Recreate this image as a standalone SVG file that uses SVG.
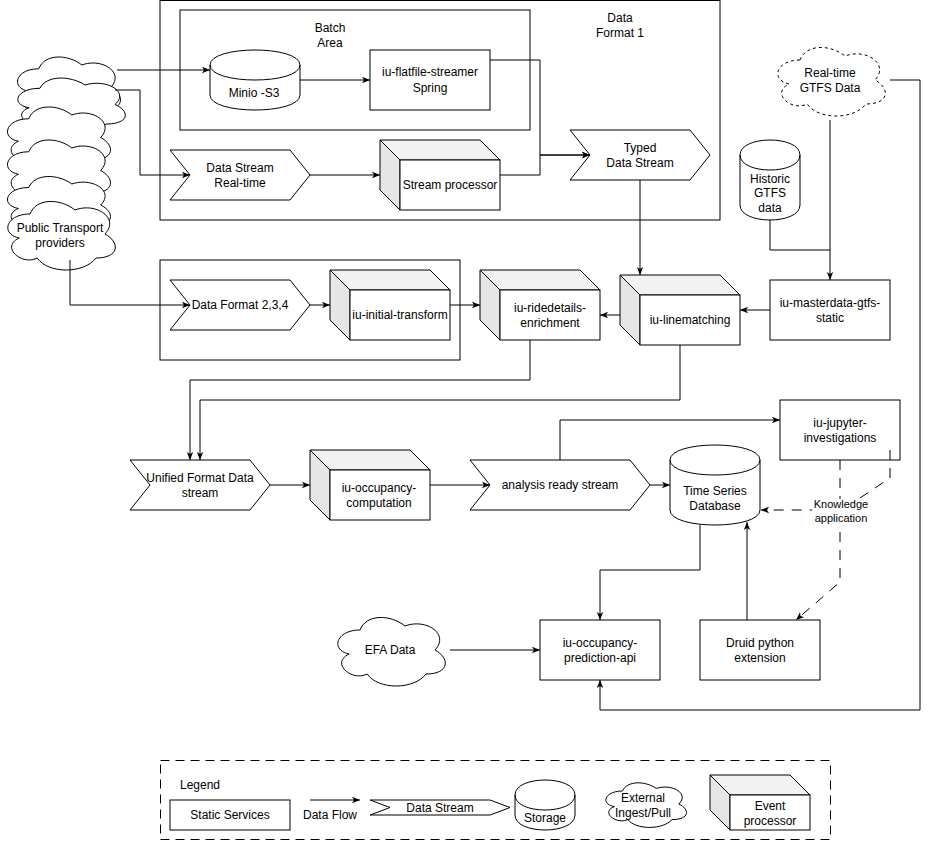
<svg xmlns="http://www.w3.org/2000/svg" width="929" height="841" viewBox="0 0 929 841">
<defs>
<style>
.b{fill:#fff;stroke:#000;stroke-width:1}
.nf{fill:none;stroke:#000;stroke-width:1}
.top{fill:#f2f2f2;stroke:#000;stroke-width:1}
.side{fill:#e6e6e6;stroke:#000;stroke-width:1}
.e{fill:none;stroke:#000;stroke-width:1;marker-end:url(#a)}
.ed{fill:none;stroke:#000;stroke-width:1;stroke-dasharray:10 8;marker-end:url(#a)}
text{font-family:"Liberation Sans",Arial,Helvetica,sans-serif;font-size:12px;fill:#000;text-anchor:middle}
.l{text-anchor:start}
.s{font-size:11px}
</style>
<marker id="a" viewBox="0 0 10 10" refX="10" refY="5" markerWidth="8" markerHeight="8" markerUnits="userSpaceOnUse" orient="auto"><path d="M0,1 L10,5 L0,9 L2.5,5 Z" fill="#000"/></marker>
</defs>
<rect width="929" height="841" fill="#fff"/>

<!-- containers -->
<g id="data-format-1"><rect class="b" x="160" y="0.5" width="560" height="219.5"/><text x="620" y="22">Data</text><text x="620" y="37">Format 1</text></g>
<g id="batch-area"><rect class="b" x="180" y="10" width="350" height="120"/><text x="330" y="32">Batch</text><text x="330" y="47">Area</text></g>
<g id="format-234-area"><rect class="b" x="160" y="260" width="300" height="100"/></g>

<!-- public transport cloud stack -->
<g id="public-transport-providers">
<path class="b" d="M38.75,68.75 C15.75,68.75 10,87.5 28.4,91.25 C10,99.5 30.7,117.5 45.65,110 C56,125 90.5,125 102,110 C125,110 125,95 110.625,87.5 C125,72.5 102,57.5 81.875,65 C67.5,53.75 44.5,53.75 38.75,68.75 Z"/>
<path class="b" d="M40,88.25 C16,88.25 10,104.5 29.2,107.75 C10,114.9 31.6,130.5 47.2,124 C58,137 94,137 106,124 C130,124 130,111 115,104.5 C130,91.5 106,78.5 85,85 C70,75.25 46,75.25 40,88.25 Z"/>
<path class="b" d="M28.75,118.75 C5.75,118.75 0,137.5 18.4,141.25 C0,149.5 20.7,167.5 35.65,160 C46,175 80.5,175 92,160 C115,160 115,145 100.625,137.5 C115,122.5 92,107.5 71.875,115 C57.5,103.75 34.5,103.75 28.75,118.75 Z"/>
<path class="b" d="M28.75,151.75 C5.75,151.75 0,170.5 18.4,174.25 C0,182.5 20.7,200.5 35.65,193 C46,208 80.5,208 92,193 C115,193 115,178 100.625,170.5 C115,155.5 92,140.5 71.875,148 C57.5,136.75 34.5,136.75 28.75,151.75 Z"/>
<path class="b" d="M28.75,187.5 C5.75,187.5 0,205 18.4,208.5 C0,216.2 20.7,233 35.65,226 C46,240 80.5,240 92,226 C115,226 115,212 100.625,205 C115,191 92,177 71.875,184 C57.5,173.5 34.5,173.5 28.75,187.5 Z"/>
<path class="b" d="M30,214 C6,214 0,234 19.2,238 C0,246.8 21.6,266 37.2,258 C48,274 84,274 96,258 C120,258 120,242 105,234 C120,218 96,202 75,210 C60,198 36,198 30,214 Z"/>
<text x="60" y="232">Public Transport</text><text x="60" y="247">providers</text>
</g>

<!-- nodes -->
<g id="minio-s3"><path class="b" d="M210,65 C210,45 300,45 300,65 L300,95 C300,115 210,115 210,95 Z"/><path class="nf" d="M210,65 C210,85 300,85 300,65"/><text x="254" y="97">Minio -S3</text></g>
<g id="flatfile-streamer"><rect class="b" x="370" y="50" width="120" height="60"/><text x="430" y="76">iu-flatfile-streamer</text><text x="430" y="92">Spring</text></g>
<g id="data-stream-realtime"><polygon class="b" points="170,150 290,150 310,175 290,200 170,200 190,175"/><text x="240" y="172">Data Stream</text><text x="240" y="187">Real-time</text></g>
<g id="stream-processor"><polygon class="top" points="380,140 480,140 500,160 400,160"/><polygon class="side" points="380,140 400,160 400,210 380,190"/><rect class="b" x="400" y="160" width="100" height="50"/><text x="450" y="189">Stream processor</text></g>
<g id="typed-data-stream"><polygon class="b" points="570,130 690,130 710,155 690,180 570,180 590,155"/><text x="640" y="152">Typed</text><text x="640" y="167">Data Stream</text></g>
<g id="historic-gtfs"><path class="b" d="M740,155 C740,135 800,135 800,155 L800,205 C800,225 740,225 740,205 Z"/><path class="nf" d="M740,155 C740,175 800,175 800,155"/><text x="770" y="183">Historic</text><text x="770" y="197">GTFS</text><text x="770" y="212">data</text></g>
<g id="realtime-gtfs"><path class="b" style="stroke-dasharray:3 3" d="M800,60 C776,60 770,80 789.2,84 C770,92.8 791.6,112 807.2,104 C818,120 854,120 866,104 C890,104 890,88 875,80 C890,64 866,48 845,56 C830,44 806,44 800,60 Z"/><text x="830" y="77">Real-time</text><text x="830" y="92">GTFS Data</text></g>
<g id="data-format-234"><polygon class="b" points="170,280 290,280 310,305 290,330 170,330 190,305"/><text x="240" y="309">Data Format 2,3,4</text></g>
<g id="initial-transform"><polygon class="top" points="330,270 430,270 450,290 350,290"/><polygon class="side" points="330,270 350,290 350,340 330,320"/><rect class="b" x="350" y="290" width="100" height="50"/><text x="400" y="319">iu-initial-transform</text></g>
<g id="ridedetails-enrichment"><polygon class="top" points="480,270 580,270 600,290 500,290"/><polygon class="side" points="480,270 500,290 500,340 480,320"/><rect class="b" x="500" y="290" width="100" height="50"/><text x="550" y="312">iu-ridedetails-</text><text x="550" y="327">enrichment</text></g>
<g id="linematching"><polygon class="top" points="620,275 720,275 740,295 640,295"/><polygon class="side" points="620,275 640,295 640,345 620,325"/><rect class="b" x="640" y="295" width="100" height="50"/><text x="690" y="324">iu-linematching</text></g>
<g id="masterdata-gtfs-static"><rect class="b" x="770" y="280" width="120" height="60"/><text x="830" y="307">iu-masterdata-gtfs-</text><text x="830" y="322">static</text></g>
<g id="unified-format"><polygon class="b" points="130,460 250,460 270,485 250,510 130,510 150,485"/><text x="200" y="482">Unified Format Data</text><text x="200" y="497">stream</text></g>
<g id="occupancy-computation"><polygon class="top" points="310,450 410,450 430,470 330,470"/><polygon class="side" points="310,450 330,470 330,520 310,500"/><rect class="b" x="330" y="470" width="100" height="50"/><text x="379" y="492">iu-occupancy-</text><text x="379" y="507">computation</text></g>
<g id="analysis-ready-stream"><polygon class="b" points="470,460 630,460 650,485 630,510 470,510 490,485"/><text x="560" y="489">analysis ready stream</text></g>
<g id="time-series-db"><path class="b" d="M670,460 C670,440 760,440 760,460 L760,510 C760,530 670,530 670,510 Z"/><path class="nf" d="M670,460 C670,480 760,480 760,460"/><text x="715" y="495">Time Series</text><text x="715" y="510">Database</text></g>
<g id="jupyter-investigations"><rect class="b" x="780" y="400" width="120" height="60"/><text x="840" y="427">iu-jupyter-</text><text x="840" y="442">investigations</text></g>
<g id="occupancy-prediction-api"><rect class="b" x="540" y="620" width="120" height="60"/><text x="600" y="647">iu-occupancy-</text><text x="600" y="662">prediction-api</text></g>
<g id="druid-python-extension"><rect class="b" x="700" y="620" width="120" height="60"/><text x="760" y="647">Druid python</text><text x="760" y="662">extension</text></g>
<g id="efa-data"><path class="b" d="M360,630 C336,630 330,650 349.2,654 C330,662.8 351.6,682 367.2,674 C378,690 414,690 426,674 C450,674 450,658 435,650 C450,634 426,618 405,626 C390,614 366,614 360,630 Z"/><text x="390" y="654">EFA Data</text></g>

<!-- connectors -->
<g id="connectors">
<path class="e" d="M117,70 L210,70"/>
<path class="e" d="M115,90 L140,90 L140,175 L190,175"/>
<path class="e" d="M300,80 L370,80"/>
<path class="e" d="M490,60 L540,60 L540,155 L590,155"/>
<path class="e" d="M310,175 L380,175"/>
<path class="e" d="M500,175 L540,175 L540,155 L590,155"/>
<path class="e" d="M640,180 L640,275"/>
<path class="e" d="M830,120 L830,280"/>
<path class="nf" d="M770,220 L770,250 L830,250"/>
<path class="e" d="M770,310 L740,310"/>
<path class="e" d="M620,315 L600,315"/>
<path class="e" d="M70,260 L70,305 L190,305"/>
<path class="e" d="M310,305 L330,305"/>
<path class="e" d="M450,305 L480,305"/>
<path class="e" d="M530,340 L530,380 L190,380 L190,460"/>
<path class="e" d="M680,345 L680,400 L200,400 L200,460"/>
<path class="e" d="M270,485 L310,485"/>
<path class="e" d="M430,485 L490,485"/>
<path class="e" d="M650,485 L670,485"/>
<path class="e" d="M560,460 L560,420 L780,420"/>
<path class="e" d="M700,525 L700,570 L600,570 L600,620"/>
<path class="e" d="M747,620 L747,522"/>
<path class="e" d="M450,650 L540,650"/>
<path class="e" d="M890,80 L920,80 L920,710 L600,710 L600,680"/>
<path class="ed" d="M840,460 L840,582 L796,620"/>
<path class="ed" d="M890,450 L890,478 L842,510 L761,510"/>
<rect x="812" y="499" width="60" height="25" fill="#fff"/>
<text class="s" x="841" y="508">Knowledge</text><text class="s" x="841" y="522">application</text>
</g>

<!-- legend -->
<g id="legend">
<rect x="160.5" y="760.5" width="670" height="79" fill="none" stroke="#000" stroke-dasharray="9 6"/>
<text class="l" x="180" y="789">Legend</text>
<rect class="b" x="170" y="800" width="120" height="30"/><text x="230" y="819">Static Services</text>
<path class="e" d="M310,800 L360,800"/><text x="330" y="819">Data Flow</text>
<polygon class="b" points="370,800 490,800 510,807.5 490,815 370,815 390,807.5"/><text x="440" y="812">Data Stream</text>
<path class="b" d="M515,795 C515,775 575,775 575,795 L575,815 C575,835 515,835 515,815 Z"/><path class="nf" d="M515,795 C515,815 575,815 575,795"/><text x="545" y="822">Storage</text>
<path class="b" d="M622.5,791 C604.5,791 600,804 614.4,806.6 C600,812.32 616.2,824.8 627.9,819.6 C636,830 663,830 672,819.6 C690,819.6 690,809.2 678.75,804 C690,793.6 672,783.2 656.25,788.4 C645,780.6 627,780.6 622.5,791 Z"/><text x="643" y="802">External</text><text x="643" y="817">Ingest/Pull</text>
<polygon class="top" points="710,775 790,775 810,795 730,795"/><polygon class="side" points="710,775 730,795 730,830 710,810"/><rect class="b" x="730" y="795" width="80" height="35"/><text x="770" y="810">Event</text><text x="770" y="825">processor</text>
</g>
</svg>
